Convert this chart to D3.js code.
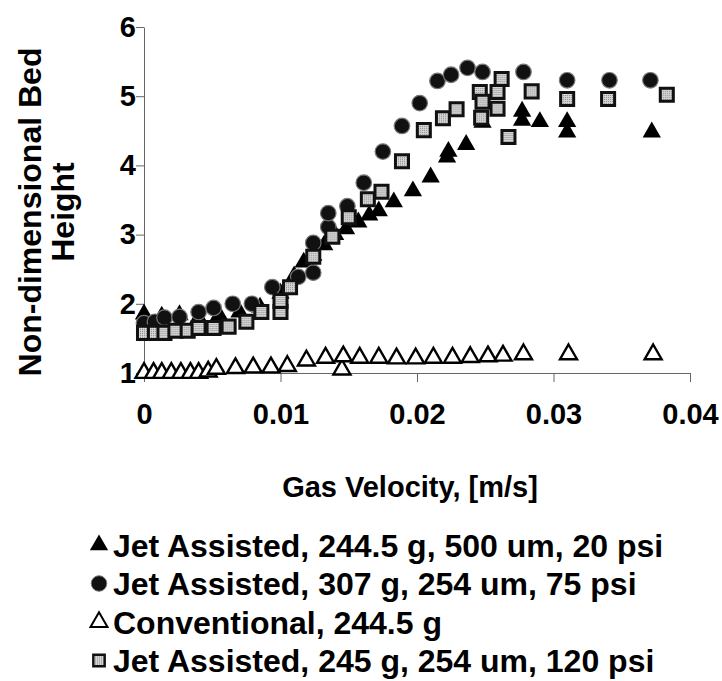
<!DOCTYPE html>
<html>
<head>
<meta charset="utf-8">
<style>
    body { margin: 0; background: #fff; }
    svg { display: block; font-family: "Liberation Sans", Arial, sans-serif; font-weight: bold; }
    .axis .domain, .axis .tick line { stroke: #666; stroke-width: 1px; }
    .axis .tick text { font-size: 29px; font-weight: bold; fill: #000; font-family: "Liberation Sans", Arial, sans-serif; }
</style>
</head>
<body>
<svg width="722" height="681"></svg>
<script src="https://d3js.org/d3.v7.min.js"></script>
<script>
    // data
    const jetA_x = [0, 0.0013, 0.0026, 0.0040, 0.0055, 0.0070, 0.0085, 0.0100, 0.0110, 0.0117, 0.0124, 0.0132, 0.0140, 0.0148, 0.0157, 0.0165, 0.0172, 0.0183, 0.0197, 0.0210, 0.0222, 0.0223, 0.0236, 0.0248, 0.0277, 0.0277, 0.0290, 0.0310, 0.0310, 0.0372]
    const jetA_y = [1.85, 1.82, 1.84, 1.80, 1.84, 1.88, 1.95, 2.15, 2.40, 2.60, 2.70, 2.85, 3.00, 3.08, 3.18, 3.28, 3.34, 3.47, 3.63, 3.83, 4.12, 4.20, 4.30, 4.62, 4.78, 4.65, 4.63, 4.63, 4.48, 4.48]

    const jetB_x = [0, 0.0008, 0.0015, 0.0026, 0.0040, 0.0051, 0.0065, 0.0079, 0.0094, 0.0113, 0.0124, 0.0124, 0.0135, 0.0135, 0.0149, 0.0161, 0.0175, 0.0189, 0.0202, 0.0215, 0.0225, 0.0237, 0.0248, 0.0278, 0.0310, 0.0341, 0.0371]
    const jetB_y = [1.72, 1.74, 1.80, 1.81, 1.88, 1.94, 2.00, 2.00, 2.24, 2.39, 2.45, 2.88, 3.11, 3.31, 3.41, 3.75, 4.20, 4.57, 4.90, 5.22, 5.31, 5.41, 5.35, 5.35, 5.23, 5.23, 5.23]

    const conv_x = [0, 0.0007, 0.0013, 0.0020, 0.0027, 0.0034, 0.0040, 0.0047, 0.0053, 0.0067, 0.0080, 0.0093, 0.0105, 0.0119, 0.0133, 0.0145, 0.0146, 0.0158, 0.0172, 0.0185, 0.0199, 0.0212, 0.0226, 0.0239, 0.0252, 0.0263, 0.0278, 0.0311, 0.0373]
    const conv_y = [1.00, 1.00, 1.00, 1.00, 1.00, 1.00, 1.00, 1.02, 1.06, 1.07, 1.08, 1.08, 1.10, 1.18, 1.22, 1.05, 1.24, 1.22, 1.22, 1.21, 1.21, 1.22, 1.22, 1.23, 1.24, 1.25, 1.27, 1.27, 1.27]

    const jetD_x = [0, 0.0008, 0.0015, 0.0023, 0.0032, 0.0040, 0.0051, 0.0062, 0.0075, 0.0086, 0.0100, 0.0100, 0.0107, 0.0124, 0.0138, 0.0150, 0.0164, 0.0174, 0.0189, 0.0205, 0.0219, 0.0229, 0.0246, 0.0248, 0.0247, 0.0259, 0.0262, 0.0259, 0.0267, 0.0284, 0.0310, 0.0340, 0.0383]
    const jetD_y = [1.58, 1.58, 1.58, 1.61, 1.61, 1.65, 1.65, 1.67, 1.74, 1.88, 1.88, 2.04, 2.24, 2.68, 2.97, 3.25, 3.51, 3.62, 4.06, 4.51, 4.68, 4.81, 5.06, 4.92, 4.69, 5.06, 5.25, 4.82, 4.41, 5.07, 4.96, 4.96, 5.02]

    const xTicks = [0, 0.01, 0.02, 0.03, 0.04]
    const yTicks = [1, 2, 3, 4, 5, 6]

    const seriesNames = [
        "Jet Assisted, 244.5 g, 500 um, 20 psi",
        "Jet Assisted, 307 g, 254 um, 75 psi",
        "Conventional, 244.5 g",
        "Jet Assisted, 245 g, 254 um, 120 psi"
    ]

    let svg = d3.select("svg")

    // stippled gray for the squares
    let pat = svg.append("defs").append("pattern")
        .attr("id", "stipple")
        .attr("width", 2).attr("height", 2)
        .attr("patternUnits", "userSpaceOnUse")
    pat.append("rect").attr("width", 2).attr("height", 2).attr("fill", "#d6d6d6")
    pat.append("rect").attr("width", 1).attr("height", 1).attr("fill", "#8a8a8a")

    let x = d3.scaleLinear().domain([0, 0.04]).range([144, 690])
    let y = d3.scaleLinear().domain([1, 6]).range([373, 27])

    // axes
    svg.append("g")
        .attr("class", "axis")
        .attr("transform", "translate(0,373)")
        .call(d3.axisBottom(x).tickValues(xTicks).tickSize(9).tickSizeOuter(0).tickPadding(21)
            .tickFormat(d => d === 0 ? "0" : d3.format(".2f")(d)))

    svg.append("g")
        .attr("class", "axis")
        .attr("transform", "translate(144,0)")
        .call(d3.axisLeft(y).tickValues(yTicks).tickSize(8).tickSizeOuter(0).tickPadding(0)
            .tickFormat(d3.format("d")))

    // axis titles
    svg.append("text")
        .attr("x", 410).attr("y", 497)
        .attr("text-anchor", "middle")
        .style("font-size", "29px")
        .text("Gas Velocity, [m/s]")

    let ytitle = svg.append("text")
        .attr("transform", "translate(0,212) rotate(-90)")
        .attr("text-anchor", "middle")
        .style("font-size", "32px")
    ytitle.append("tspan").attr("x", 0).attr("y", 41).text("Non-dimensional Bed")
    ytitle.append("tspan").attr("x", 0).attr("y", 74).text("Height")

    // symbol styles
    const styles = [
        { type: d3.symbolTriangle, size: 145, fill: "#000", stroke: "none", sw: 0 },
        { type: d3.symbolCircle, size: 190, fill: "#111", stroke: "#777", sw: 1.2 },
        { type: d3.symbolTriangle, size: 125, fill: "#fff", stroke: "#000", sw: 2.4 },
        { type: d3.symbolSquare, size: 170, fill: "url(#stipple)", stroke: "#111", sw: 3 }
    ]

    const allSeries = [
        d3.zip(jetA_x, jetA_y),
        d3.zip(jetB_x, jetB_y),
        d3.zip(conv_x, conv_y),
        d3.zip(jetD_x, jetD_y)
    ]

    allSeries.forEach(function (pts, i) {
        let s = styles[i]
        svg.append("g")
            .selectAll("path")
            .data(pts)
            .join("path")
            .attr("d", d3.symbol().type(s.type).size(s.size))
            .attr("transform", d => `translate(${x(d[0])},${y(d[1])})`)
            .attr("fill", s.fill)
            .attr("stroke", s.stroke)
            .attr("stroke-width", s.sw)
    })

    // legend
    let legend = svg.append("g")
        .selectAll("g")
        .data(seriesNames)
        .join("g")
        .attr("transform", (d, i) => `translate(99,${545 + i * 38.5})`)

    legend.append("path")
        .attr("d", (d, i) => d3.symbol().type(styles[i].type).size(i == 3 ? 130 : styles[i].size)())
        .attr("fill", (d, i) => styles[i].fill)
        .attr("stroke", (d, i) => styles[i].stroke)
        .attr("stroke-width", (d, i) => i == 2 ? 2 : styles[i].sw * 0.8)

    legend.append("text")
        .attr("x", 14)
        .attr("dy", "0.36em")
        .style("font-size", "32px")
        .text(d => d)
</script>
</body>
</html>
